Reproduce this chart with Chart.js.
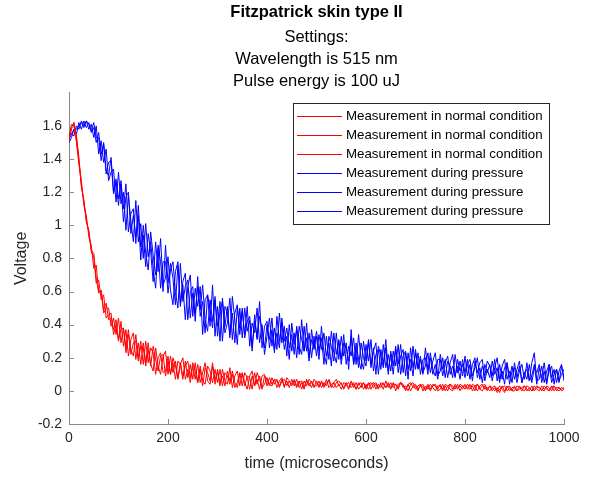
<!DOCTYPE html>
<html>
<head>
<meta charset="utf-8">
<script src="https://cdn.jsdelivr.net/npm/chart.js@4.4.1/dist/chart.umd.min.js"></script>
<style>
  body { margin: 0; background: #fff; }
</style>
</head>
<body>
<canvas id="skinChart" width="589" height="477"></canvas>
<script>
// sample times in microseconds (one sample every 5 us)
var timeUs = [
  0,5,10,15,20,25,30,35,40,45,50,55,60,65,70,75,80,85,90,95,
  100,105,110,115,120,125,130,135,140,145,150,155,160,165,170,175,180,185,190,195,
  200,205,210,215,220,225,230,235,240,245,250,255,260,265,270,275,280,285,290,295,
  300,305,310,315,320,325,330,335,340,345,350,355,360,365,370,375,380,385,390,395,
  400,405,410,415,420,425,430,435,440,445,450,455,460,465,470,475,480,485,490,495,
  500,505,510,515,520,525,530,535,540,545,550,555,560,565,570,575,580,585,590,595,
  600,605,610,615,620,625,630,635,640,645,650,655,660,665,670,675,680,685,690,695,
  700,705,710,715,720,725,730,735,740,745,750,755,760,765,770,775,780,785,790,795,
  800,805,810,815,820,825,830,835,840,845,850,855,860,865,870,875,880,885,890,895,
  900,905,910,915,920,925,930,935,940,945,950,955,960,965,970,975,980,985,990,995,1000
];

var normal1 = [
  1.51,1.59,1.62,1.54,1.41,1.23,1.15,1.02,0.97,0.84,
  0.81,0.65,0.67,0.55,0.58,0.44,0.46,0.47,0.34,0.40,
  0.30,0.42,0.27,0.37,0.21,0.31,0.35,0.19,0.29,0.16,
  0.29,0.17,0.29,0.16,0.12,0.26,0.15,0.10,0.21,0.24,
  0.10,0.21,0.11,0.18,0.07,0.16,0.20,0.07,0.13,0.05,
  0.15,0.07,0.16,0.05,0.11,0.17,0.06,0.04,0.15,0.07,
  0.11,0.03,0.13,0.06,0.04,0.14,0.02,0.09,0.12,0.03,
  0.11,0.05,0.01,0.09,0.12,0.03,0.07,0.01,0.09,0.10,
  0.03,0.08,0.04,0.07,0.02,0.06,0.08,0.03,0.06,0.02,
  0.07,0.03,0.07,0.02,0.05,0.01,0.06,0.05,0.02,0.07,
  0.05,0.02,0.06,0.03,0.07,0.02,0.04,0.05,0.02,0.04,
  0.01,0.05,0.04,0.01,0.06,0.02,0.05,0.01,0.03,0.05,
  0.02,0.05,0.01,0.04,0.05,0.02,0.04,0.01,0.06,0.02,
  0.05,0.02,0.04,0.01,0.05,0.03,0.00,0.04,0.05,0.02,
  0.03,0.00,0.04,0.02,0.01,0.04,0.00,0.03,0.04,0.01,
  0.04,0.01,0.03,0.00,0.04,0.03,0.01,0.04,0.00,0.03,
  0.01,0.04,0.02,0.03,0.00,0.04,0.01,0.03,0.04,0.01,
  0.03,0.00,0.02,0.00,0.03,0.01,-0.01,0.03,0.00,0.02,
  0.02,0.00,0.03,0.01,0.00,0.03,0.02,0.00,0.03,0.01,
  0.00,0.03,0.01,0.02,0.00,0.03,0.00,0.02,0.02,0.00,0.01
];
var normal2 = [
  1.53,1.61,1.60,1.50,1.37,1.27,1.12,1.06,0.93,0.88,
  0.74,0.76,0.60,0.60,0.47,0.50,0.50,0.39,0.44,0.34,
  0.44,0.29,0.38,0.23,0.34,0.25,0.21,0.34,0.20,0.30,
  0.16,0.30,0.17,0.26,0.23,0.10,0.20,0.23,0.11,0.12,
  0.21,0.10,0.17,0.07,0.18,0.16,0.07,0.18,0.08,0.16,
  0.07,0.17,0.05,0.13,0.03,0.14,0.11,0.06,0.17,0.04,
  0.13,0.05,0.09,0.03,0.12,0.06,0.10,0.02,0.05,0.11,
  0.03,0.11,0.08,0.01,0.09,0.03,0.11,0.07,0.01,0.09,
  0.07,0.03,0.08,0.04,0.07,0.02,0.06,0.07,0.03,0.06,
  0.03,0.07,0.03,0.06,0.01,0.06,0.03,0.07,0.05,0.02,
  0.06,0.03,0.05,0.02,0.05,0.06,0.02,0.05,0.07,0.03,
  0.05,0.01,0.04,0.05,0.02,0.04,0.01,0.05,0.02,0.05,
  0.01,0.04,0.05,0.02,0.04,0.01,0.05,0.04,0.02,0.05,
  0.02,0.05,0.00,0.04,0.05,0.02,0.03,0.00,0.04,0.05,
  0.01,0.03,0.04,0.00,0.03,0.01,0.04,0.02,0.00,0.03,
  0.03,0.00,0.04,0.03,0.01,0.00,0.04,0.02,0.03,0.01,
  0.04,0.02,0.01,0.04,0.03,0.00,0.03,0.04,0.01,0.02,
  0.00,0.02,0.03,-0.01,0.01,0.02,0.03,0.00,0.02,0.00,
  0.03,0.00,0.01,0.02,0.03,0.00,0.02,0.00,0.01,0.03,
  0.02,0.00,0.03,0.01,0.00,0.02,0.03,0.00,0.02,0.01,0.02
];
var normal3 = [
  1.52,1.58,1.62,1.53,1.39,1.24,1.15,1.03,0.96,0.85,
  0.83,0.68,0.59,0.61,0.49,0.53,0.43,0.44,0.37,0.43,
  0.31,0.37,0.38,0.26,0.37,0.22,0.29,0.30,0.18,0.27,
  0.26,0.15,0.25,0.15,0.27,0.19,0.12,0.21,0.22,0.09,
  0.18,0.10,0.20,0.15,0.08,0.17,0.09,0.15,0.18,0.08,
  0.17,0.12,0.05,0.15,0.06,0.04,0.15,0.12,0.05,0.13,
  0.05,0.13,0.03,0.11,0.09,0.04,0.12,0.05,0.02,0.10,
  0.10,0.03,0.09,0.08,0.01,0.11,0.04,0.09,0.02,0.04,
  0.08,0.04,0.03,0.07,0.06,0.03,0.07,0.02,0.08,0.06,
  0.04,0.06,0.02,0.05,0.06,0.02,0.07,0.03,0.06,0.03,
  0.03,0.06,0.02,0.05,0.03,0.07,0.03,0.02,0.05,0.06,
  0.04,0.02,0.05,0.02,0.04,0.05,0.01,0.04,0.05,0.01,
  0.04,0.01,0.04,0.05,0.01,0.04,0.02,0.05,0.02,0.04,
  0.01,0.04,0.04,0.02,0.05,0.04,0.01,0.04,0.00,0.03,
  0.04,0.01,0.03,0.04,0.00,0.03,0.01,0.04,0.03,0.00,
  0.01,0.04,0.00,0.03,0.04,0.01,0.03,0.01,0.04,0.03,
  0.03,0.01,0.04,0.00,0.03,0.04,0.01,0.00,0.03,0.00,
  0.03,0.02,0.00,0.02,-0.01,0.03,0.00,0.02,0.03,0.00,
  0.00,0.03,0.02,0.00,0.03,0.01,0.00,0.03,0.00,0.02,
  0.02,0.01,0.00,0.03,0.02,0.00,0.03,0.01,0.00,0.02,0.01
];

var pressure1 = [
  1.50,1.53,1.58,1.55,1.62,1.58,1.63,1.59,1.62,1.56,
  1.59,1.50,1.56,1.43,1.49,1.31,1.38,1.39,1.19,1.26,
  1.12,1.27,1.10,1.25,0.96,1.07,1.10,0.89,1.12,0.87,
  0.94,0.75,0.95,0.84,0.66,0.90,0.72,0.92,0.64,0.68,
  0.81,0.61,0.52,0.72,0.78,0.51,0.64,0.43,0.63,0.70,
  0.45,0.62,0.51,0.63,0.34,0.55,0.58,0.39,0.64,0.33,
  0.51,0.30,0.56,0.39,0.51,0.32,0.57,0.43,0.28,0.50,
  0.32,0.50,0.36,0.43,0.24,0.46,0.31,0.54,0.26,0.39,
  0.42,0.26,0.37,0.23,0.45,0.30,0.41,0.25,0.33,0.19,
  0.41,0.28,0.37,0.22,0.43,0.24,0.32,0.18,0.37,0.25,
  0.33,0.19,0.39,0.23,0.16,0.33,0.27,0.18,0.35,0.19,
  0.33,0.21,0.29,0.13,0.37,0.16,0.26,0.14,0.29,0.20,
  0.15,0.31,0.16,0.24,0.29,0.10,0.25,0.16,0.31,0.12,
  0.22,0.10,0.25,0.16,0.28,0.11,0.23,0.07,0.26,0.14,
  0.23,0.13,0.19,0.10,0.26,0.13,0.20,0.10,0.16,0.07,
  0.22,0.13,0.19,0.08,0.17,0.22,0.09,0.15,0.07,0.19,
  0.11,0.19,0.07,0.16,0.20,0.08,0.14,0.05,0.16,0.11,
  0.16,0.06,0.14,0.20,0.07,0.12,0.04,0.17,0.08,0.15,
  0.07,0.13,0.18,0.05,0.11,0.07,0.16,0.05,0.14,0.11,
  0.16,0.05,0.12,0.04,0.16,0.08,0.13,0.05,0.12,0.16,0.06
];
var pressure2 = [
  1.54,1.55,1.54,1.60,1.58,1.63,1.60,1.63,1.58,1.61,
  1.53,1.60,1.43,1.51,1.38,1.46,1.27,1.32,1.34,1.14,
  1.32,1.13,1.20,0.97,1.18,1.03,0.90,1.15,0.90,1.01,
  0.80,1.01,0.81,0.90,0.74,0.62,0.88,0.78,0.60,0.88,
  0.65,0.77,0.68,0.52,0.76,0.53,0.66,0.71,0.43,0.60,
  0.63,0.42,0.69,0.45,0.54,0.35,0.58,0.49,0.38,0.57,
  0.33,0.48,0.54,0.35,0.41,0.56,0.31,0.47,0.52,0.34,
  0.48,0.34,0.51,0.27,0.41,0.35,0.50,0.29,0.40,0.22,
  0.33,0.44,0.27,0.38,0.25,0.47,0.29,0.39,0.21,0.40,
  0.24,0.35,0.20,0.39,0.31,0.24,0.41,0.20,0.31,0.26,
  0.36,0.24,0.32,0.16,0.33,0.19,0.36,0.23,0.17,0.30,
  0.19,0.34,0.16,0.27,0.21,0.32,0.16,0.34,0.19,0.13,
  0.28,0.18,0.31,0.12,0.22,0.25,0.13,0.28,0.14,0.22,
  0.12,0.24,0.15,0.28,0.10,0.21,0.24,0.13,0.19,0.09,
  0.25,0.14,0.21,0.11,0.15,0.23,0.11,0.18,0.23,0.09,
  0.12,0.20,0.08,0.18,0.15,0.08,0.22,0.11,0.18,0.09,
  0.21,0.09,0.16,0.06,0.18,0.11,0.17,0.19,0.06,0.13,
  0.08,0.18,0.10,0.14,0.05,0.15,0.19,0.07,0.12,0.05,
  0.17,0.08,0.15,0.05,0.11,0.13,0.06,0.17,0.23,0.06,
  0.07,0.15,0.05,0.12,0.16,0.05,0.10,0.13,0.05,0.15,0.08
];
var pressure3 = [
  1.52,1.55,1.58,1.58,1.60,1.62,1.59,1.63,1.61,1.57,
  1.62,1.53,1.53,1.39,1.50,1.33,1.30,1.41,1.20,1.28,
  1.16,1.25,1.02,1.17,1.20,0.95,1.06,0.93,1.06,0.79,
  1.00,0.83,0.73,0.96,0.82,0.70,0.86,0.62,0.78,0.78,
  0.59,0.73,0.78,0.60,0.50,0.77,0.54,0.63,0.67,0.44,
  0.59,0.46,0.63,0.49,0.64,0.43,0.36,0.55,0.42,0.55,
  0.39,0.54,0.30,0.51,0.47,0.34,0.47,0.29,0.50,0.38,
  0.50,0.32,0.42,0.45,0.26,0.42,0.32,0.45,0.37,0.26,
  0.40,0.31,0.44,0.25,0.35,0.26,0.44,0.30,0.38,0.26,
  0.34,0.22,0.39,0.27,0.22,0.39,0.24,0.35,0.20,0.33,
  0.21,0.34,0.25,0.35,0.21,0.29,0.15,0.35,0.22,0.31,
  0.16,0.29,0.26,0.18,0.33,0.16,0.29,0.19,0.13,0.30,
  0.18,0.30,0.14,0.26,0.10,0.27,0.21,0.14,0.26,0.10,
  0.24,0.15,0.27,0.11,0.21,0.25,0.09,0.23,0.12,0.27,
  0.13,0.23,0.10,0.19,0.20,0.10,0.23,0.13,0.09,0.19,
  0.19,0.09,0.17,0.21,0.10,0.15,0.08,0.19,0.12,0.16,
  0.08,0.16,0.19,0.09,0.14,0.20,0.07,0.15,0.09,0.18,
  0.15,0.09,0.19,0.06,0.16,0.07,0.14,0.17,0.04,0.12,
  0.14,0.05,0.12,0.16,0.07,0.17,0.06,0.09,0.16,0.04,
  0.14,0.08,0.17,0.05,0.12,0.15,0.04,0.13,0.06,0.10,0.13
];

var xTickValues = [0, 200, 400, 600, 800, 1000];
var yTickValues = [-0.2, 0, 0.2, 0.4, 0.6, 0.8, 1, 1.2, 1.4, 1.6];

var chartTitle = 'Fitzpatrick skin type II';
var chartSubtitle = ['Settings:', 'Wavelength is 515 nm', 'Pulse energy is 100 uJ'];
var normalLabel = 'Measurement in normal condition';
var pressureLabel = 'Measurement during pressure';

var fontFamily = '"Liberation Sans", Arial, Helvetica, sans-serif';
var axisColor = '#8a8a8a';
var textColor = '#262626';

function series(label, values, color) {
    return {
        label: label,
        data: values.map(function (v, i) { return { x: timeUs[i], y: v }; }),
        borderColor: color,
        backgroundColor: 'transparent',
        borderWidth: 1,
        pointRadius: 0,
        tension: 0
    };
}

// little ticks pointing into the plot, like matlab
var innerTicks = {
    id: 'innerTicks',
    afterDraw: function (chart) {
        var ctx = chart.ctx;
        var area = chart.chartArea;
        var xs = chart.scales.x, ys = chart.scales.y;
        ctx.save();
        ctx.strokeStyle = axisColor;
        ctx.lineWidth = 1;
        ctx.beginPath();
        xs.ticks.forEach(function (t) {
            var px = Math.round(xs.getPixelForValue(t.value)) + 0.5;
            ctx.moveTo(px, area.bottom);
            ctx.lineTo(px, area.bottom - 5);
        });
        ys.ticks.forEach(function (t) {
            var py = Math.round(ys.getPixelForValue(t.value)) + 0.5;
            ctx.moveTo(area.left, py);
            ctx.lineTo(area.left + 5, py);
        });
        ctx.stroke();
        ctx.restore();
    }
};

// boxed legend sitting inside the top right of the axes
var boxLegend = {
    id: 'boxLegend',
    afterDatasetsDraw: function (chart) {
        var ctx = chart.ctx;
        var area = chart.chartArea;
        var sets = chart.data.datasets;
        var rowH = 19;
        var boxW = 256;
        var boxH = sets.length * rowH + 7;
        var bx = area.right - 15 - boxW;
        var by = area.top + 10;
        ctx.save();
        ctx.fillStyle = '#fff';
        ctx.fillRect(bx, by, boxW, boxH);
        ctx.strokeStyle = '#262626';
        ctx.lineWidth = 1;
        ctx.strokeRect(Math.round(bx) + 0.5, Math.round(by) + 0.5, boxW, boxH);
        ctx.font = '13.3px ' + fontFamily;
        ctx.textBaseline = 'middle';
        ctx.textAlign = 'left';
        sets.forEach(function (ds, i) {
            var y = Math.round(by + 13 + i * rowH) + 0.5;
            ctx.strokeStyle = ds.borderColor;
            ctx.beginPath();
            ctx.moveTo(bx + 4, y);
            ctx.lineTo(bx + 49, y);
            ctx.stroke();
            ctx.fillStyle = '#000';
            ctx.fillText(ds.label, bx + 53, y);
        });
        ctx.restore();
    }
};

var ctx = document.getElementById('skinChart').getContext('2d');

var skinChart = new Chart(ctx, {
    type: 'line',
    data: {
        datasets: [
            series(normalLabel, normal1, '#ff0000'),
            series(normalLabel, normal2, '#ff0000'),
            series(normalLabel, normal3, '#ff0000'),
            series(pressureLabel, pressure1, '#0000ff'),
            series(pressureLabel, pressure2, '#0000ff'),
            series(pressureLabel, pressure3, '#0000ff')
        ]
    },
    options: {
        responsive: false,
        animation: false,
        events: [],
        layout: {
            padding: { top: 0, right: 25, bottom: 0, left: 0 }
        },
        plugins: {
            legend: { display: false },
            tooltip: { enabled: false },
            title: {
                display: true,
                text: chartTitle,
                fullSize: false,
                color: '#000',
                font: { family: fontFamily, size: 16.5, weight: 'bold', lineHeight: 1.2 },
                padding: { top: 3, bottom: 4 }
            },
            subtitle: {
                display: true,
                text: chartSubtitle,
                fullSize: false,
                color: '#000',
                font: { family: fontFamily, size: 16.5, lineHeight: 22 / 16.5 },
                padding: { top: 0, bottom: 0 }
            }
        },
        scales: {
            x: {
                type: 'linear',
                min: 0,
                max: 1000,
                afterBuildTicks: function (scale) {
                    scale.ticks = xTickValues.map(function (v) { return { value: v }; });
                },
                afterFit: function (scale) { scale.height = 53; },
                grid: { display: false, drawTicks: false },
                border: { display: true, color: axisColor },
                ticks: {
                    color: textColor,
                    padding: 6,
                    maxRotation: 0,
                    font: { family: fontFamily, size: 14 },
                    callback: function (v) { return String(v); }
                },
                title: {
                    display: true,
                    text: 'time (microseconds)',
                    color: textColor,
                    font: { family: fontFamily, size: 16 },
                    padding: { top: 0, bottom: 4 }
                }
            },
            y: {
                type: 'linear',
                min: -0.2,
                max: 1.8,
                afterBuildTicks: function (scale) {
                    scale.ticks = yTickValues.map(function (v) { return { value: v }; });
                },
                afterFit: function (scale) { scale.width = 69; },
                grid: { display: false, drawTicks: false },
                border: { display: true, color: axisColor },
                ticks: {
                    color: textColor,
                    padding: 7,
                    font: { family: fontFamily, size: 14 },
                    callback: function (v) { return String(Number(v.toFixed(1))); }
                },
                title: {
                    display: true,
                    text: 'Voltage',
                    color: textColor,
                    font: { family: fontFamily, size: 16 },
                    padding: { top: 12, bottom: 0 }
                }
            }
        }
    },
    plugins: [innerTicks, boxLegend]
});
</script>
</body>
</html>
